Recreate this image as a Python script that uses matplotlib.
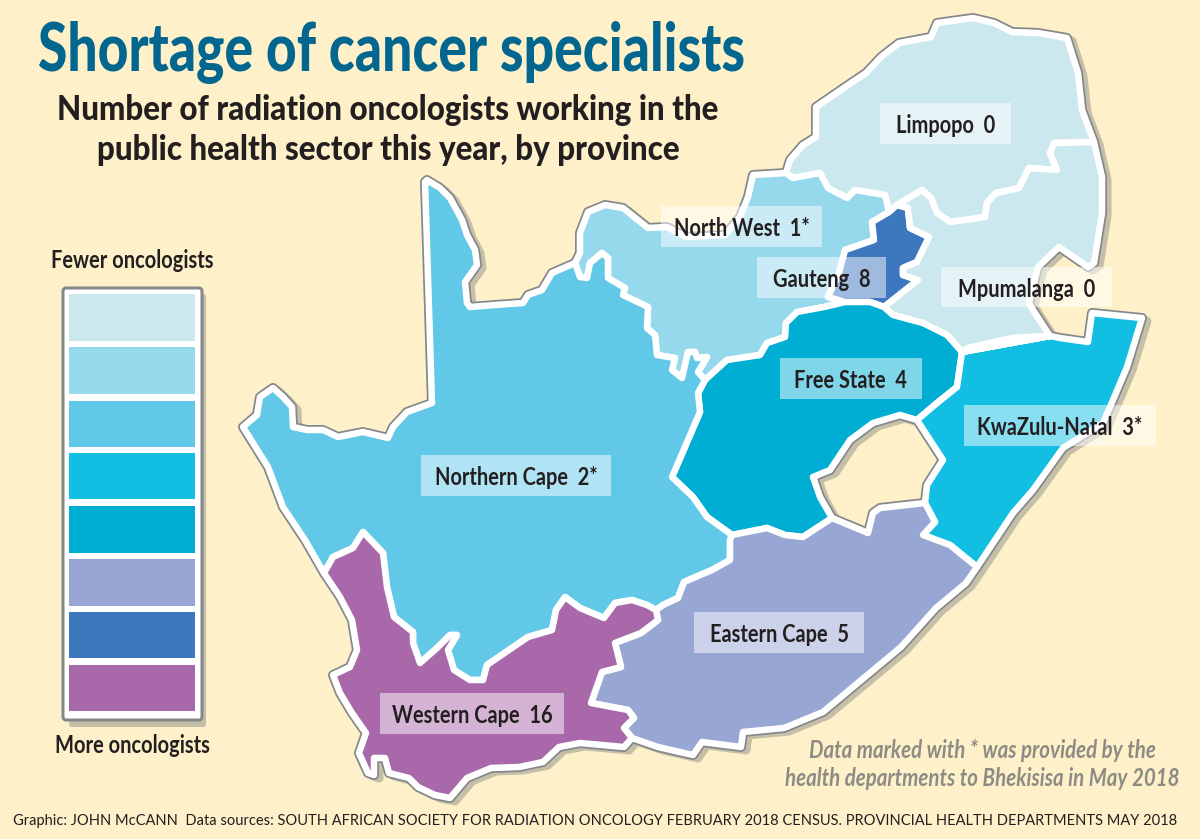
import os
import matplotlib
matplotlib.use("Agg")
import matplotlib.pyplot as plt
from matplotlib.font_manager import FontProperties, findfont
from matplotlib.patches import Polygon, Rectangle, FancyBboxPatch
from matplotlib.textpath import TextPath
from matplotlib.transforms import Affine2D
from fontTools.ttLib import TTFont

W, H = 1200, 839
BG = "#fef1c9"
INK = "#231f20"

TITLE = "Shortage of cancer specialists"
SUBTITLE = ["Number of radiation oncologists working in the",
            "public health sector this year, by province"]
LEGEND_TOP = "Fewer oncologists"
LEGEND_BOTTOM = "More oncologists"
NOTE = ["Data marked with * was provided by the",
        "health departments to Bhekisisa in May 2018"]
FOOTER = ("Graphic: JOHN McCANN  Data sources: SOUTH AFRICAN SOCIETY FOR RADIATION ONCOLOGY "
          "FEBRUARY 2018 CENSUS. PROVINCIAL HEALTH DEPARTMENTS MAY 2018")

# Legend classes, fewest to most oncologists
class_values = [0, 1, 2, 3, 4, 5, 8, 16]
class_colors = ["#cce8ef", "#96d8ec", "#62c8e7", "#12bfe3",
                "#01aed3", "#97a6d3", "#3d78bf", "#a968aa"]

provinces = ["Limpopo", "North West", "Gauteng", "Mpumalanga", "Free State",
             "KwaZulu-Natal", "Northern Cape", "Eastern Cape", "Western Cape"]
oncologists = [0, 1, 8, 0, 4, 3, 2, 5, 16]
starred = [False, True, False, False, False, True, True, False, False]

# Traced shared borders (image pixels)
nc_outer = [(575,263),(552,273),(542,290),(528,295),(523,303),(495,305),(470,307),(467,303),
            (465,282),(477,265),(475,250),(467,235),(462,220),(450,198),(440,188),(427,180),
            (425,182),(432,403),(407,412),(393,427),(388,438),(363,432),(338,437),(323,430),
            (307,430),(293,427),(292,407),(283,397),(273,388),(260,397),(257,415),(243,427),
            (253,443),(268,467),(283,507),(305,540),(324,573)]
nc_wc = [(324,573),(333,557),(353,548),(363,532),(383,553),(387,587),(394,617),(413,632),
         (413,643),(420,663),(437,648),(450,635),(457,635),(448,650),(454,670),(470,680),
         (483,680),(487,665),(506,652),(528,637),(552,630),(556,610),(565,597),(580,608),
         (604,618),(615,603),(632,600),(647,605),(656,610)]
nc_ec = [(656,610),(663,605),(678,598),(684,582),(712,570),(730,560),(730,540),(732,535)]
nc_fs = [(732,535),(707,517),(693,497),(672,477),(700,412),(698,393),(705,380)]
nc_nw = [(705,380),(698,372),(707,357),(697,358),(695,352),(688,352),(682,378),(672,370),
         (675,358),(657,355),(655,335),(647,328),(648,307),(623,295),(625,288),(608,278),
         (608,258),(602,253),(590,263),(587,278),(580,277),(575,263)]
nw_outer = [(575,263),(580,253),(580,233),(588,212),(605,205),(623,208),(648,228),(667,227),
            (686,237),(725,235),(740,217),(748,197),(753,175),(786,173)]
nw_lim = [(786,173),(793,178),(820,173),(828,188),(847,198),(855,190),(885,195),(889,212)]
nw_gau = [(889,212),(872,222),(874,240),(845,250),(839,273),(828,297),(845,302)]
nw_fs = [(845,302),(824,307),(797,312),(786,323),(785,337),(767,343),(760,355),(727,360),(705,380)]
gau_fs = [(845,302),(870,302),(884,307)]
gau_mp = [(884,307),(903,292),(918,280),(903,275),(903,268),(917,262),(929,237),(910,228),(908,208)]
lim_gau = [(889,212),(897,205),(908,208)]
lim_outer = [(786,173),(790,160),(803,145),(816,137),(816,107),(851,83),(866,73),(881,57),
             (899,43),(931,37),(937,23),(973,18),(994,23),(1012,32),(1038,33),(1067,38),
             (1078,73),(1082,110),(1094,142)]
lim_mp = [(1094,142),(1054,143),(1050,153),(1057,170),(1029,168),(1019,188),(996,193),(987,203),
          (985,217),(950,222),(937,213),(931,198),(922,190),(897,205)]
mp_outer = [(1094,142),(1102,177),(1102,213),(1094,263),(1088,267),(1059,247),(1038,267),
            (1029,303),(1033,310),(1050,336)]
mp_kzn = [(1050,336),(1013,338),(968,348),(962,352)]
mp_fs = [(962,352),(947,335),(923,323),(893,315),(884,307)]
fs_kzn = [(962,352),(957,387),(937,403),(917,420)]
fs_les = [(917,420),(900,415),(873,423),(850,440),(830,470),(813,477),(820,497),(832,518)]
fs_ec = [(832,518),(803,537),(785,535),(767,528),(732,535)]
kzn_outer = [(1050,336),(1060,338),(1088,342),(1092,313),(1142,318),(1127,367),(1113,400),
             (1103,423),(1063,448),(1033,490),(1013,513),(993,543),(977,567)]
kzn_ec = [(977,567),(950,545),(923,535),(935,522),(925,503)]
kzn_les = [(925,503),(927,485),(943,460),(917,420)]
ec_les = [(925,503),(880,508),(873,513),(868,533),(832,518)]
ec_coast = [(632,738),(658,747),(693,755),(702,742),(741,747),(743,732),(784,728),(823,712),
            (871,672),(901,647),(936,608),(966,583),(977,567)]
ec_wc = [(632,738),(624,728),(634,718),(628,710),(591,703),(602,672),(621,667),(615,643),
         (641,633),(658,620),(656,610)]
wc_coast = [(324,573),(340,597),(352,620),(357,650),(350,667),(333,675),(340,693),(352,713),
            (366,733),(359,753),(368,773),(374,775),(374,758),(385,758),(389,773),(409,778),
            (418,787),(435,795),(450,798),(467,778),(491,768),(519,767),(543,762),(559,747),
            (580,743),(624,747),(632,738)]

outlines = {
    "Limpopo": [(lim_outer, False), (lim_mp, False), (lim_gau[:2], True), (nw_lim, True)],
    "North West": [(nw_outer, False), (nw_lim, False), (nw_gau, False), (nw_fs, False), (nc_nw, False)],
    "Gauteng": [(lim_gau, False), (gau_mp, True), (gau_fs, True), (nw_gau, True)],
    "Mpumalanga": [(lim_mp, True), (mp_outer, False), (mp_kzn, False), (mp_fs, False), (gau_mp, False), (lim_gau[1:], True)],
    "Free State": [(nw_fs, True), (gau_fs, False), (mp_fs, True), (fs_kzn, False), (fs_les, False), (fs_ec, False), (nc_fs, False)],
    "KwaZulu-Natal": [(mp_kzn, True), (fs_kzn, False), (kzn_les, True), (kzn_ec, True), (kzn_outer, True)],
    "Northern Cape": [(nc_outer, False), (nc_wc, False), (nc_ec, False), (nc_fs, False), (nc_nw, False)],
    "Eastern Cape": [(ec_coast, False), (kzn_ec, False), (ec_les, False), (fs_ec, False), (nc_ec, True), (ec_wc, True)],
    "Western Cape": [(wc_coast, False), (ec_wc, False), (nc_wc, True)],
}

label_boxes = {
    "Limpopo": (880, 103, 1011, 144),
    "North West": (661, 206, 822, 247),
    "Gauteng": (757, 257, 886, 298),
    "Mpumalanga": (941, 267, 1112, 307),
    "Free State": (780, 358, 922, 399),
    "KwaZulu-Natal": (964, 405, 1156, 446),
    "Northern Cape": (421, 455, 611, 496),
    "Eastern Cape": (694, 612, 864, 653),
    "Western Cape": (380, 693, 564, 734),
}

swatch_tops = [294, 347, 401, 453, 506, 559, 612, 665]
swatch_bottoms = [341, 394, 447, 499, 553, 606, 658, 711]

px = 0.72  # points per pixel at 100 dpi


def narrow_font(base, factor, tag):
    """Write a horizontally condensed copy of a font, since no condensed face is installed."""
    path = f"narrow_{tag}.ttf"
    if not os.path.exists(path):
        f = TTFont(findfont(base))
        glyf = f["glyf"]
        for name in glyf.keys():
            g = glyf[name]
            if g.isComposite():
                for c in g.components:
                    c.x = int(round(c.x * factor))
            elif g.numberOfContours > 0:
                g.coordinates.scale((factor, 1))
                g.coordinates.toInt()
        hmtx = f["hmtx"]
        for name, (adv, lsb) in list(hmtx.metrics.items()):
            hmtx[name] = (int(round(adv * factor)), int(round(lsb * factor)))
        for t in ("kern", "GPOS", "fpgm", "prep", "cvt ", "hdmx", "VDMX", "LTSH"):
            if t in f:
                del f[t]
        f.save(path)
    return FontProperties(fname=path)


def fitted(base, text, size_px, width_px, tag):
    w = TextPath((0, 0), text, size=size_px, prop=base).get_extents().width
    return narrow_font(base, width_px / w, tag)


def chain(parts):
    pts = []
    for seg, rev in parts:
        pts.extend(seg[::-1] if rev else seg)
    return pts


LATO_BLACK = FontProperties(family="Lato", weight=900)
LATO_BOLD = FontProperties(family="Lato", weight="bold")
LATO_BI = FontProperties(family="Lato", weight="bold", style="italic")
LATO_REG = FontProperties(family="Lato", weight="regular")

f_title = fitted(LATO_BLACK, TITLE, 66, 704, "title")
f_sub = fitted(LATO_BLACK, SUBTITLE[0], 35, 658, "sub")
f_label = fitted(LATO_BOLD, "Northern Cape  2*", 25, 160, "label")
f_leg = fitted(LATO_BOLD, LEGEND_TOP, 24, 160, "leg")
f_note = fitted(LATO_BI, NOTE[1], 25, 393, "note")
f_foot = fitted(LATO_REG, FOOTER, 15.5, 1159, "foot")

fig = plt.figure(figsize=(12, 8.39), dpi=100, facecolor=BG)
ax = fig.add_axes([0, 0, 1, 1])
ax.set_xlim(0, W)
ax.set_ylim(H, 0)
ax.axis("off")

shadow = "#c6bfa8"
grey = "#85888a"

for name in provinces:
    pts = chain(outlines[name])
    ax.add_patch(Polygon(pts, closed=True, fc=shadow, ec=shadow, lw=9 * px, joinstyle="round", zorder=1,
                         transform=Affine2D().translate(5, 3) + ax.transData))
for name in provinces:
    pts = chain(outlines[name])
    ax.add_patch(Polygon(pts, closed=True, fc=grey, ec=grey, lw=10 * px, joinstyle="round", zorder=2))
for name, v in zip(provinces, oncologists):
    pts = chain(outlines[name])
    ax.add_patch(Polygon(pts, closed=True, fc=class_colors[class_values.index(v)], ec="white",
                         lw=6.5 * px, joinstyle="round", zorder=3))

for name, v, star in zip(provinces, oncologists, starred):
    l, t, r, b = label_boxes[name]
    ax.add_patch(Rectangle((l, t), r - l, b - t, fc="white", ec="none", alpha=0.5, zorder=4))
    ax.text((l + r) / 2, t + 30, f"{name}  {v}{'*' if star else ''}", ha="center", va="baseline",
            fontproperties=f_label, fontsize=25 * px, color=INK, zorder=5)

# Legend
ax.add_patch(FancyBboxPatch((69, 294), 137, 433, boxstyle="round,pad=0,rounding_size=3",
                            fc=shadow, ec="none", zorder=1))
ax.add_patch(FancyBboxPatch((63, 288), 139, 432, boxstyle="round,pad=0,rounding_size=3",
                            fc="white", ec=grey, lw=3 * px, zorder=2))
for c, t, b in zip(class_colors, swatch_tops, swatch_bottoms):
    ax.add_patch(Rectangle((69, t), 126, b - t, fc=c, ec="none", zorder=3))

ax.text(132, 268, LEGEND_TOP, ha="center", va="baseline", fontproperties=f_leg, fontsize=24 * px, color=INK)
ax.text(132, 753, LEGEND_BOTTOM, ha="center", va="baseline", fontproperties=f_leg, fontsize=24 * px, color=INK)

# Titles
ax.text(38, 71, TITLE, ha="left", va="baseline", fontproperties=f_title, fontsize=66 * px,
        color="#03668f", zorder=6)
for y, line in zip((120, 160), SUBTITLE):
    ax.text(388, y, line, ha="center", va="baseline", fontproperties=f_sub, fontsize=35 * px,
            color=INK, zorder=6)

# Note and footer
for y, line in zip((758, 786), NOTE):
    ax.text(982, y, line, ha="center", va="baseline", fontproperties=f_note, fontsize=25 * px,
            color="#8d8c84", zorder=6)
ax.text(13, 825, FOOTER, ha="left", va="baseline", fontproperties=f_foot, fontsize=15.5 * px,
        color=INK, zorder=6)

fig.savefig("out.png", dpi=100, facecolor=BG)
